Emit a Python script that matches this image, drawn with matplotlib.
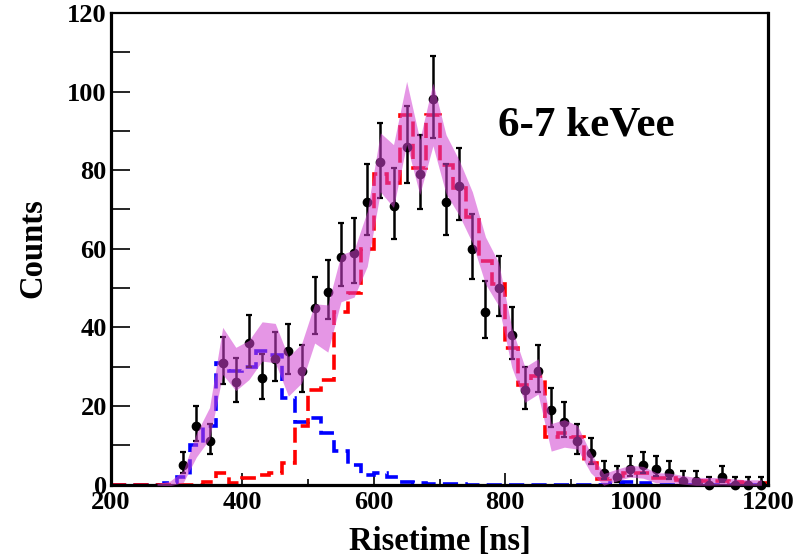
import numpy as np
import matplotlib.pyplot as plt
from matplotlib.ticker import MultipleLocator

plt.rcParams['font.family'] = ['Liberation Serif', 'DejaVu Serif']
plt.rcParams['font.weight'] = 'bold'

# histogram binning (20 ns bins, 200-1200 ns)
bin_lo = 200
bin_hi = 1200
bin_w = 20

# data points (bin centres 310 .. 1190 ns)
data_x = [310, 330, 350, 370, 390, 410, 430, 450, 470, 490,
          510, 530, 550, 570, 590, 610, 630, 650, 670, 690,
          710, 730, 750, 770, 790, 810, 830, 850, 870, 890,
          910, 930, 950, 970, 990, 1010, 1030, 1050, 1070, 1090,
          1110, 1130, 1150, 1170, 1190]
data_y = [5, 15, 11, 31, 26, 36, 27, 32, 34, 29,
          45, 49, 58, 59, 72, 82, 71, 86, 79, 98,
          72, 76, 60, 44, 50, 38, 24, 29, 19, 16,
          11, 8, 3, 2, 4, 5, 4, 3, 1, 1,
          0, 2, 0, 0, 0]

# fast component (blue), one value per bin starting at 200 ns
blue = [0, 0, 0, 0, 0.3, 2, 10, 15, 31, 29,
        30, 34, 33, 22, 16, 17, 13, 8.5, 5, 2.5,
        3, 1.8, 0.6, 0.3, 0.2, 0.1, 0.1, 0, 0, 0,
        0, 0, 0, 0, 0, 0, 0, 0, 0.3, 0.6,
        0.3, 0, 0, 0, 0, 0, 0, 0, 0, 0]

# slow component (red)
red = [0, 0, 0, 0, 0, 0, 0, 0.6, 3, 0.4,
       1.7, 2.4, 3, 5.5, 14.8, 24, 26.7, 44, 48.7, 60,
       79, 76.7, 94, 80.5, 94, 81.4, 75.4, 68, 57, 51,
       34.8, 25.4, 27.5, 12, 13, 12, 5.5, 1.3, 2.1, 2.8,
       2.8, 1.7, 1.7, 1.2, 0.8, 0.8, 0.8, 0.6, 0.5, 0.5]

# half width of the fit uncertainty band, per bin
band_w = [0, 0, 0, 0.2, 0.6, 1.5, 3, 4, 6, 5.5,
          5, 5, 5, 5, 5, 5, 6, 6, 6, 7,
          7.5, 8, 8, 7, 8, 7.5, 7, 6.5, 6, 5.5,
          5, 4.5, 4.5, 3.5, 3.5, 3, 2.5, 1.5, 1.5, 1.5,
          1.5, 1.3, 1.2, 1.1, 1.0, 1.0, 0.9, 0.8, 0.7, 0.7]

edges = np.arange(bin_lo, bin_hi + 1, bin_w)
centres = edges[:-1] + bin_w / 2
blue = np.array(blue)
red = np.array(red)
total = blue + red
band_w = np.array(band_w)

# poisson style asymmetric errors on the data
dy = np.array(data_y, dtype=float)
err_lo = np.where(dy > 0, np.sqrt(np.clip(dy - 0.25, 0, None)), 0)
err_hi = np.sqrt(dy + 0.75) + 1

fig = plt.figure(figsize=(7.93, 5.58), dpi=100)
ax = fig.add_axes([111 / 793, 1 - 484.5 / 558, (768 - 111) / 793, (484.5 - 13) / 558])

dash = (0, (4.2, 2.0))
ax.stairs(blue, edges, color='#0000ff', lw=2.6, linestyle=dash, zorder=2, clip_on=False)
ax.stairs(red, edges, color='#ff0000', lw=2.6, linestyle=dash, zorder=2, clip_on=False)

ax.errorbar(data_x, data_y, yerr=[err_lo, err_hi], fmt='o', color='black', ms=6,
            elinewidth=1.8, capsize=2.2, capthick=1.6, zorder=3, clip_on=False)

m = centres >= 270
ax.fill_between(centres[m], (total - band_w)[m], (total + band_w)[m],
                color=(0.82, 0.25, 0.82), alpha=0.55, lw=0, zorder=4)

ax.set_xlim(bin_lo, bin_hi)
ax.set_ylim(0, 120)

ax.xaxis.set_major_locator(MultipleLocator(200))
ax.xaxis.set_minor_locator(MultipleLocator(100))
ax.yaxis.set_major_locator(MultipleLocator(20))
ax.yaxis.set_minor_locator(MultipleLocator(10))
ax.tick_params(axis='x', which='major', direction='in', length=8.6, width=1.2,
               labelsize=19, pad=5, top=False)
ax.tick_params(axis='x', which='minor', direction='in', length=4.3, width=1.2, top=False)
ax.tick_params(axis='y', which='both', direction='in', length=14, width=1.2,
               labelsize=19, pad=3, right=False)
for lab in ax.get_xticklabels() + ax.get_yticklabels():
    lab.set_fontweight('bold')

for s in ['left', 'bottom', 'right']:
    ax.spines[s].set_linewidth(2.3)
ax.spines['top'].set_linewidth(1.6)

fig.text(439.5 / 793, 1 - 550 / 558, 'Risetime [ns]', ha='center', va='baseline',
         fontsize=23.5, fontweight='bold')
fig.text(33 / 793, 1 - 248 / 558, 'Counts', ha='center', va='center', rotation=90,
         fontsize=23.5, fontweight='bold')
fig.text(498 / 793, 1 - 135 / 558, '6-7 keVee', ha='left', va='baseline',
         fontsize=31, fontweight='bold')

fig.savefig('out.png', dpi=100)
